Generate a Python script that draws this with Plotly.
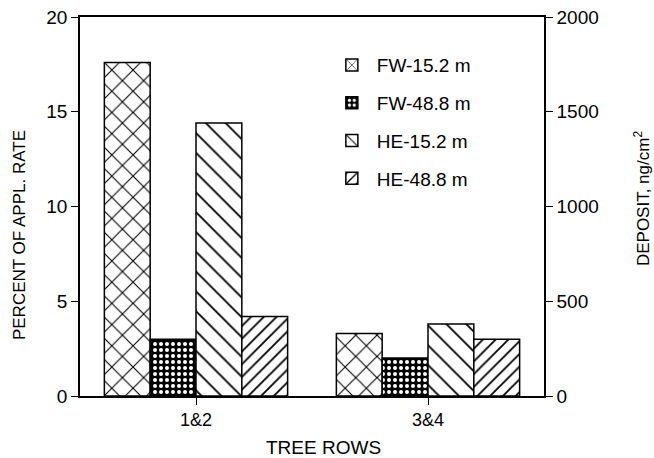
import plotly.graph_objects as go

categories = ["1&2", "3&4"]
series_names = ["FW-15.2 m", "FW-48.8 m", "HE-15.2 m", "HE-48.8 m"]
fw_15 = [17.6, 3.3]
fw_48 = [3.0, 2.0]
he_15 = [14.4, 3.8]
he_48 = [4.2, 3.0]
left_ticks = [0, 5, 10, 15, 20]
right_ticks = [0, 500, 1000, 1500, 2000]

FONT = "Liberation Sans, Arial, sans-serif"

patterns = [
    dict(shape="x", fgcolor="black", bgcolor="white", size=15, solidity=0.14, fillmode="replace"),
    dict(shape=".", fgcolor="white", bgcolor="black", size=6, solidity=0.35, fillmode="replace"),
    dict(shape="\\", fgcolor="black", bgcolor="white", size=14, solidity=0.13, fillmode="replace"),
    dict(shape="/", fgcolor="black", bgcolor="white", size=9, solidity=0.2, fillmode="replace"),
]

fig = go.Figure()
for i, (name, vals) in enumerate(zip(series_names, [fw_15, fw_48, he_15, he_48])):
    fig.add_trace(go.Bar(
        x=categories, y=vals, name=name, legendgroup=name,
        marker=dict(color="white", line=dict(color="black", width=1.5), pattern=patterns[i]),
    ))

# invisible trace to activate the right axis
fig.add_trace(go.Scatter(x=categories, y=[0, 0], yaxis="y2", mode="lines",
                         opacity=0, showlegend=False, hoverinfo="skip"))

fig.update_layout(
    width=654, height=458,
    margin=dict(l=80, r=110, t=17, b=62, autoexpand=False),
    paper_bgcolor="white", plot_bgcolor="white",
    font=dict(family=FONT, size=18, color="black"),
    barmode="group", bargap=0.21, bargroupgap=0,
    showlegend=True,
    legend=dict(x=0.532, y=0.923, xanchor="left", yanchor="top",
                font=dict(size=19), traceorder="grouped", tracegroupgap=10,
                itemwidth=40, bgcolor="rgba(0,0,0,0)"),
    xaxis=dict(
        range=[-0.5, 1.5], showline=True, linecolor="black", linewidth=1.5,
        mirror=True, ticks="outside", ticklen=7, tickcolor="black",
        tickfont=dict(size=18), automargin=False, ticklabeloverflow="allow",
        showgrid=False, zeroline=False,
    ),
    yaxis=dict(
        range=[0, 20], tickvals=left_ticks, showline=True, linecolor="black",
        linewidth=1.5, ticks="outside", ticklen=7, tickcolor="black",
        tickfont=dict(size=19), automargin=False, ticklabeloverflow="allow",
        showgrid=False, zeroline=False,
    ),
    yaxis2=dict(
        range=[0, 2000], tickvals=right_ticks, overlaying="y", side="right",
        showline=True, linecolor="black", linewidth=1.5, ticks="outside",
        ticklen=7, tickcolor="black", tickfont=dict(size=19), automargin=False,
        ticklabeloverflow="allow", showgrid=False, zeroline=False,
    ),
    annotations=[
        dict(text="PERCENT OF APPL. RATE", xref="paper", yref="paper",
             x=-0.129, y=0.425, xanchor="center", yanchor="middle",
             textangle=-90, showarrow=False, font=dict(size=17)),
        dict(text="DEPOSIT, ng/cm<sup>2</sup>", xref="paper", yref="paper",
             x=1.211, y=0.522, xanchor="center", yanchor="middle",
             textangle=-90, showarrow=False, font=dict(size=17)),
        dict(text="TREE ROWS", xref="paper", yref="paper",
             x=0.524, y=-0.135, xanchor="center", yanchor="middle",
             showarrow=False, font=dict(size=19)),
    ],
)

fig.write_html(
    "out.html",
    config={"displayModeBar": False},
    post_script="document.body.style.margin='0px';document.body.style.overflow='hidden';",
)
